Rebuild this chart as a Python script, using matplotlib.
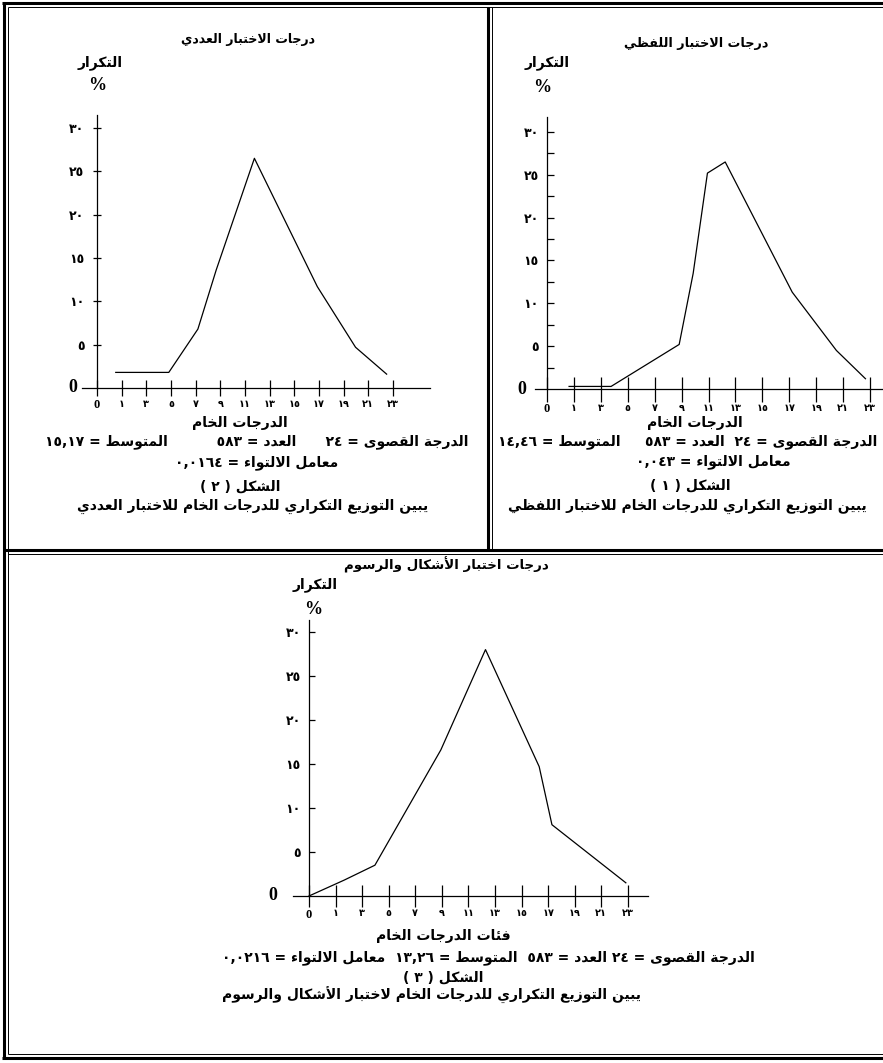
import re
import matplotlib
matplotlib.use("Agg")
import matplotlib.pyplot as plt
from matplotlib.lines import Line2D

W, H = 883, 1063

# ---------------- data ----------------
x_tick_labels = ["0", "١", "٣", "٥", "٧", "٩", "١١", "١٣", "١٥", "١٧", "١٩", "٢١", "٢٣"]
y_tick_values = [5, 10, 15, 20, 25, 30]
y_tick_labels = ["٥", "١٠", "١٥", "٢٠", "٢٥", "٣٠"]

# Figure (2): numerical test  (x in tick-index units, y = percent frequency)
numeric_x = [0.76, 2.91, 4.09, 4.83, 6.38, 8.93, 10.48, 11.74]
numeric_y = [1.8, 1.8, 6.8, 13.6, 26.5, 11.7, 4.7, 1.6]

# Figure (1): verbal test
verbal_x = [0.82, 2.38, 4.91, 5.43, 5.96, 6.62, 9.11, 10.75, 11.83]
verbal_y = [0.3, 0.3, 5.2, 13.5, 25.2, 26.5, 11.3, 4.5, 1.2]

# Figure (3): shapes and drawings test
shapes_x = [0.0, 1.32, 2.48, 4.96, 6.64, 8.66, 9.14, 11.92]
shapes_y = [0.0, 1.8, 3.5, 16.6, 28.0, 14.7, 8.1, 1.5]

# ---------------- Arabic shaping ----------------
def _dual(b):
    return (b, b + 1, b + 2, b + 3)

def _right(b):
    return (b, b + 1, None, None)

AR = {
    "ء": (0xFE80, None, None, None),
    "آ": _right(0xFE81), "أ": _right(0xFE83), "ؤ": _right(0xFE85),
    "إ": _right(0xFE87), "ئ": _dual(0xFE89), "ا": _right(0xFE8D),
    "ب": _dual(0xFE8F), "ة": _right(0xFE93), "ت": _dual(0xFE95),
    "ث": _dual(0xFE99), "ج": _dual(0xFE9D), "ح": _dual(0xFEA1),
    "خ": _dual(0xFEA5), "د": _right(0xFEA9), "ذ": _right(0xFEAB),
    "ر": _right(0xFEAD), "ز": _right(0xFEAF), "س": _dual(0xFEB1),
    "ش": _dual(0xFEB5), "ص": _dual(0xFEB9), "ض": _dual(0xFEBD),
    "ط": _dual(0xFEC1), "ظ": _dual(0xFEC5), "ع": _dual(0xFEC9),
    "غ": _dual(0xFECD), "ف": _dual(0xFED1), "ق": _dual(0xFED5),
    "ك": _dual(0xFED9), "ل": _dual(0xFEDD), "م": _dual(0xFEE1),
    "ن": _dual(0xFEE5), "ه": _dual(0xFEE9), "و": _right(0xFEED),
    "ى": _right(0xFEEF), "ي": _dual(0xFEF1),
}
LAMALEF = {"آ": 0xFEF5, "أ": 0xFEF7, "إ": 0xFEF9, "ا": 0xFEFB}


def shape(s):
    out = []
    i, n = 0, len(s)
    prev_joins = False
    while i < n:
        c = s[i]
        if c == "ل" and i + 1 < n and s[i + 1] in LAMALEF:
            b = LAMALEF[s[i + 1]]
            out.append(chr(b + 1 if prev_joins else b))
            prev_joins = False
            i += 2
            continue
        if c in AR:
            f = AR[c]
            nxt = s[i + 1] if i + 1 < n else ""
            can_next = f[2] is not None and nxt in AR and AR[nxt][1] is not None
            if prev_joins and can_next:
                g = f[3]
            elif prev_joins:
                g = f[1]
            elif can_next:
                g = f[2]
            else:
                g = f[0]
            if g is None:
                g = f[0]
            out.append(chr(g))
            prev_joins = f[2] is not None
        else:
            out.append(c)
            prev_joins = False
        i += 1
    return "".join(out)


def ar(s):
    s = shape(s)
    tokens = re.findall(r"[٠-٩0-9]+(?:[,.][٠-٩0-9]+)*|.", s)
    mirror = {"(": ")", ")": "("}
    return "".join(mirror.get(t, t) for t in tokens[::-1])


# ---------------- figure ----------------
fig = plt.figure(figsize=(W / 100, H / 100), dpi=100)
fig.patch.set_facecolor("white")

AFONT = "DejaVu Sans"
SERIF = "Liberation Serif"


def ftext(x, y, s, size=10, family=AFONT, weight="bold", ha="center"):
    fig.text(x / W, 1 - y / H, s, ha=ha, va="center", fontsize=size,
             family=family, fontweight=weight)


def fline(x0, y0, x1, y1, lw):
    fig.add_artist(Line2D([x0 / W, x1 / W], [1 - y0 / H, 1 - y1 / H],
                          transform=fig.transFigure, color="black", lw=lw,
                          solid_capstyle="butt"))


def make_chart(x0px, y0px, pxx, pxy, xlim, ylim, xbounds, ybounds, xs, ys,
               xtick_len, xtick_pad, ytick_dir, ytick_len, minor=False,
               zero_x=None, ylab_size=9):
    left = x0px + xlim[0] * pxx
    right = x0px + xlim[1] * pxx
    bottom = y0px - ylim[0] * pxy
    top = y0px - ylim[1] * pxy
    ax = fig.add_axes([left / W, 1 - bottom / H, (right - left) / W, (bottom - top) / H])
    ax.set_xlim(*xlim)
    ax.set_ylim(*ylim)
    ax.patch.set_alpha(0)
    for s in ("top", "right"):
        ax.spines[s].set_visible(False)
    ax.spines["left"].set_position(("data", 0))
    ax.spines["bottom"].set_position(("data", 0))
    ax.spines["bottom"].set_bounds(*xbounds)
    ax.spines["left"].set_bounds(*ybounds)
    for s in ("left", "bottom"):
        ax.spines[s].set_linewidth(0.9)
    ax.plot(xs, ys, color="black", lw=0.9, clip_on=False)
    ax.set_xticks(range(len(x_tick_labels)))
    ax.set_xticklabels([ar(t) if t != "0" else t for t in x_tick_labels],
                       fontsize=7, fontweight="bold", family=AFONT)
    ax.get_xticklabels()[0].set_fontfamily(SERIF)
    ax.get_xticklabels()[0].set_fontsize(9)
    ax.tick_params(axis="x", direction="inout", length=xtick_len, width=0.9,
                   pad=xtick_pad)
    ax.set_yticks(y_tick_values)
    ax.set_yticklabels([ar(t) for t in y_tick_labels], fontsize=ylab_size,
                       fontweight="bold", family=AFONT)
    ax.tick_params(axis="y", direction=ytick_dir, length=ytick_len, width=0.9,
                   pad=6)
    if minor:
        ax.set_yticks([2.5, 7.5, 12.5, 17.5, 22.5, 27.5], minor=True)
        ax.tick_params(axis="y", which="minor", direction=ytick_dir,
                       length=ytick_len, width=0.9)
    ax.text(zero_x, 0, "0", transform=ax.transData, ha="center", va="center",
            fontsize=13, fontweight="bold", family=SERIF)
    return ax


# Figure (2) - top left
make_chart(97, 388, 24.67, 8.667, (-1.0, 14.0), (-3, 33), (-0.6, 13.5),
           (0, 31.5), numeric_x, numeric_y, 12, 2, "inout", 6,
           zero_x=(73 - 97) / 24.67)
# Figure (1) - top right
make_chart(547, 389, 26.92, 8.567, (-1.0, 12.5), (-3, 33), (-0.45, 12.5),
           (0, 31.7), verbal_x, verbal_y, 18, 1, "in", 5, minor=True,
           zero_x=(522 - 547) / 26.92)
# Figure (3) - bottom
make_chart(309, 896, 26.58, 8.8, (-1.0, 13.0), (-3, 33), (-0.6, 12.75),
           (0, 31.4), shapes_x, shapes_y, 16, 1, "in", 4,
           zero_x=(273 - 309) / 26.58)

# ---------------- texts ----------------
# top-left panel
ftext(248, 40, ar("درجات الاختبار العددي"), size=9.0)
ftext(100, 63, ar("التكرار"), size=10)
ftext(97, 86, "%", size=13, family=SERIF)
ftext(240, 423, ar("الدرجات الخام"), size=10)
ftext(257, 442, ar("الدرجة القصوى = ٢٤      العدد = ٥٨٣          المتوسط = ١٥,١٧"), size=10)
ftext(257, 463, ar("معامل الالتواء = ٠,٠١٦٤"), size=10)
ftext(240, 486, ar("الشكل ( ٢ )"), size=10)
ftext(253, 506, ar("يبين التوزيع التكراري للدرجات الخام للاختبار العددي"), size=10)

# top-right panel
ftext(696, 43, ar("درجات الاختبار اللفظي"), size=9.2)
ftext(547, 63, ar("التكرار"), size=10)
ftext(542, 88, "%", size=13, family=SERIF)
ftext(695, 423, ar("الدرجات الخام"), size=10)
ftext(688, 442, ar("الدرجة القصوى = ٢٤  العدد = ٥٨٣     المتوسط = ١٤,٤٦"), size=10)
ftext(713, 462, ar("معامل الالتواء = ٠,٠٤٣"), size=10)
ftext(690, 485, ar("الشكل ( ١ )"), size=10)
ftext(687, 506, ar("يبين التوزيع التكراري للدرجات الخام للاختبار اللفظي"), size=10)

# bottom panel
ftext(446, 565, ar("درجات اختبار الأشكال والرسوم"), size=9.6)
ftext(315, 585, ar("التكرار"), size=10)
ftext(313, 610, "%", size=13, family=SERIF)
ftext(443, 936, ar("فئات الدرجات الخام"), size=10)
ftext(488, 958, ar("الدرجة القصوى = ٢٤ العدد = ٥٨٣  المتوسط = ١٣,٢٦  معامل الالتواء = ٠,٠٢١٦"), size=10)
ftext(443, 977, ar("الشكل ( ٣ )"), size=10)
ftext(432, 995, ar("يبين التوزيع التكراري للدرجات الخام لاختبار الأشكال والرسوم"), size=10)

# ---------------- frames ----------------
THICK, THIN = 2.2, 0.7
# top edge
fline(2, 3, 883, 3, THICK)
fline(8, 7, 883, 7, THIN)
# left edge
fline(4, 2, 4, 1058, THICK)
fline(8, 7, 8, 1054, THIN)
# divider between top panels
fline(488, 7, 488, 549, THICK)
fline(492, 7, 492, 549, THIN)
# divider between top and bottom
fline(4, 550, 883, 550, THICK)
fline(8, 554, 883, 554, THIN)
# bottom edge
fline(8, 1054, 883, 1054, THIN)
fline(2, 1058, 883, 1058, THICK)

fig.savefig("out.png", dpi=100)
